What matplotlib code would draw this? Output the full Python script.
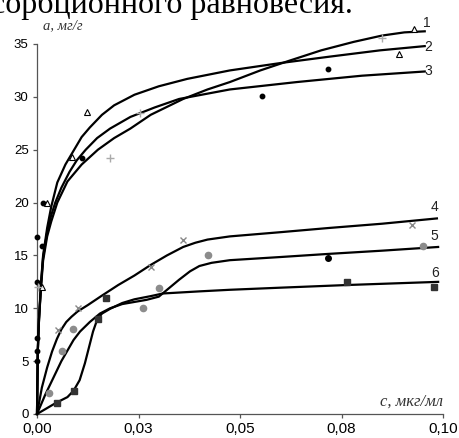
import matplotlib
matplotlib.use('Agg')
import matplotlib.pyplot as plt

# ---------------- data ----------------
# upper group: curves 1-3 (c, mkg/ml ; a, mg/g)
c1 = [0, 0.0002, 0.0005, 0.001, 0.0015, 0.0025, 0.0035, 0.005, 0.0075, 0.011, 0.015,
      0.019, 0.023, 0.028, 0.036, 0.042, 0.0475, 0.055, 0.062, 0.070, 0.078, 0.085, 0.0905, 0.0955]
a1 = [0, 6, 9, 12, 14.5, 16.8, 18.2, 20.0, 22.0, 23.6, 25.0,
      26.1, 27.0, 28.3, 29.8, 30.7, 31.4, 32.5, 33.4, 34.4, 35.2, 35.8, 36.1, 36.2]

c2 = [0, 0.0002, 0.0005, 0.001, 0.0015, 0.0025, 0.0035, 0.005, 0.007, 0.009, 0.011,
      0.013, 0.016, 0.019, 0.024, 0.030, 0.037, 0.0475, 0.060, 0.072, 0.0845, 0.0955]
a2 = [0, 6, 9, 12.5, 15, 17.6, 19.6, 21.9, 23.6, 24.9, 26.2,
      27.1, 28.3, 29.2, 30.2, 31.0, 31.7, 32.5, 33.2, 33.8, 34.4, 34.8]

c3 = [0, 0.0002, 0.0005, 0.001, 0.0015, 0.0025, 0.0035, 0.0045, 0.006, 0.008, 0.0098,
      0.012, 0.0148, 0.018, 0.023, 0.029, 0.035, 0.0475, 0.064, 0.080, 0.0955]
a3 = [0, 6, 9, 12.3, 14.8, 17.2, 18.8, 20.0, 21.4, 22.9, 24.0,
      25.0, 26.1, 27.0, 28.1, 29.0, 29.8, 30.7, 31.4, 32.0, 32.4]

# lower group: curves 4-6
c4 = [0, 0.0012, 0.0025, 0.0037, 0.0049, 0.006, 0.0072, 0.0085, 0.010, 0.0125, 0.016,
      0.020, 0.024, 0.028, 0.032, 0.036, 0.039, 0.042, 0.0475, 0.060, 0.072, 0.085, 0.0985]
a4 = [0, 2.5, 4.4, 5.9, 7.1, 8.0, 8.7, 9.2, 9.7, 10.3, 11.2,
      12.2, 13.1, 14.1, 15.0, 15.8, 16.2, 16.5, 16.8, 17.2, 17.6, 18.0, 18.5]

c5 = [0, 0.002, 0.004, 0.006, 0.0075, 0.009, 0.0106, 0.013, 0.0155, 0.018, 0.021, 0.024,
      0.027, 0.030, 0.0325, 0.035, 0.0377, 0.040, 0.043, 0.0475, 0.060, 0.072, 0.085, 0.0988]
a5 = [0, 1.8, 3.4, 5.0, 6.0, 7.0, 7.8, 8.7, 9.5, 10.0, 10.4, 10.6,
      10.8, 11.1, 11.9, 12.7, 13.5, 14.0, 14.3, 14.55, 14.85, 15.15, 15.45, 15.8]

c6 = [0, 0.002, 0.004, 0.0057, 0.0075, 0.009, 0.0105, 0.0118, 0.0128, 0.0138, 0.0148,
      0.016, 0.018, 0.021, 0.024, 0.028, 0.031, 0.040, 0.0475, 0.060, 0.0763, 0.0988]
a6 = [0, 0.45, 0.9, 1.25, 1.6, 2.2, 3.2, 4.8, 6.3, 7.8, 8.9,
      9.5, 9.95, 10.5, 10.85, 11.15, 11.4, 11.6, 11.75, 11.95, 12.2, 12.5]

# experimental points
dots_c = [0.0001, 0.0001, 0.0012, 0.0015, 0.011, 0.0554, 0.0717, 0.0001, 0.0001, 0.0001]
dots_a = [16.7, 12.5, 15.9, 20.0, 24.2, 30.1, 32.6, 7.2, 6.0, 5.0]
tri_c = [0.0012, 0.0025, 0.0086, 0.0123, 0.0892, 0.0929]
tri_a = [12.0, 20.0, 24.3, 28.6, 34.1, 36.4]
plus_c = [0.0003, 0.018, 0.0254, 0.085]
plus_a = [12.0, 24.2, 28.5, 35.6]

cross_c = [0.0051, 0.0101, 0.028, 0.036, 0.0924]
cross_a = [7.9, 10.0, 13.9, 16.5, 17.9]
gcirc_c = [0.003, 0.0062, 0.0089, 0.026, 0.030, 0.042, 0.095]
gcirc_a = [2.0, 6.0, 8.0, 10.0, 11.9, 15.0, 15.9]
bdot_c = [0.0717]
bdot_a = [14.8]
sq_c = [0.005, 0.0091, 0.015, 0.017, 0.0763, 0.0978]
sq_a = [1.0, 2.2, 9.0, 11.0, 12.5, 12.0]

curve_names = ['1', '2', '3', '4', '5', '6']
name_pos = [(0.0961, 37.0), (0.0964, 34.7), (0.0964, 32.4),
            (0.0979, 19.6), (0.0979, 16.8), (0.0980, 13.3)]

yticks = [0, 5, 10, 15, 20, 25, 30, 35]
xticks = [0, 0.025, 0.05, 0.075, 0.1]
xtick_labels = ['0,00', '0,03', '0,05', '0,08', '0,10']

# ---------------- figure ----------------
W, H = 459, 438
fig = plt.figure(figsize=(W / 100, H / 100), dpi=100)
ax = fig.add_axes([37 / W, 1 - 414 / H, 406 / W, 370 / H])

for c, a in [(c1, a1), (c2, a2), (c3, a3), (c4, a4), (c5, a5), (c6, a6)]:
    ax.plot(c, a, color='black', lw=1.6, clip_on=False, zorder=3)

ax.plot(dots_c, dots_a, 'o', ms=3.2, color='black', clip_on=False, zorder=4)
ax.plot(tri_c, tri_a, '^', ms=4, mfc='white', mec='black', mew=0.8, clip_on=False, zorder=4)
ax.plot(plus_c, plus_a, '+', ms=6, color='#aaaaaa', mew=1, clip_on=False, zorder=4)
ax.plot(cross_c, cross_a, 'x', ms=4.5, color='#888888', mew=1, clip_on=False, zorder=4)
ax.plot(gcirc_c, gcirc_a, 'o', ms=4.5, color='#8c8c8c', clip_on=False, zorder=4)
ax.plot(bdot_c, bdot_a, 'o', ms=4, color='black', clip_on=False, zorder=4)
ax.plot(sq_c, sq_a, 's', ms=4.2, color='#333333', clip_on=False, zorder=4)

for name, (x, y) in zip(curve_names, name_pos):
    ax.text(x, y, name, ha='center', va='center', fontsize=10,
            family='Liberation Sans', color='#222222', clip_on=False)

ax.set_xlim(0, 0.1)
ax.set_ylim(0, 35)
ax.set_xticks(xticks)
ax.set_xticklabels(xtick_labels)
ax.set_yticks(yticks)
for s in ['top', 'right']:
    ax.spines[s].set_visible(False)
for s in ['left', 'bottom']:
    ax.spines[s].set_color('#555555')
    ax.spines[s].set_linewidth(0.9)
ax.tick_params(length=3, width=0.9, color='#555555', pad=3, labelsize=9.5)
for lab in ax.get_xticklabels() + ax.get_yticklabels():
    lab.set_family('Liberation Sans')
for lab in ax.get_xticklabels():
    lab.set_fontsize(11)

# header line of the page, cut by the top edge of the picture
fig.text(353 / W, 1 - 13 / H, 'сорбционного равновесия.', ha='right', va='baseline',
         fontsize=23, family='Liberation Serif', color='black')
fig.text(43 / W, 1 - 26 / H, 'a, мг/г', ha='left', va='center', fontsize=10.5,
         family='Liberation Serif', style='italic', color='#333333')
fig.text(443 / W, 1 - 402 / H, 'c, мкг/мл', ha='right', va='center', fontsize=12,
         family='Liberation Serif', style='italic', color='#333333')

fig.savefig('out.png', dpi=100)
